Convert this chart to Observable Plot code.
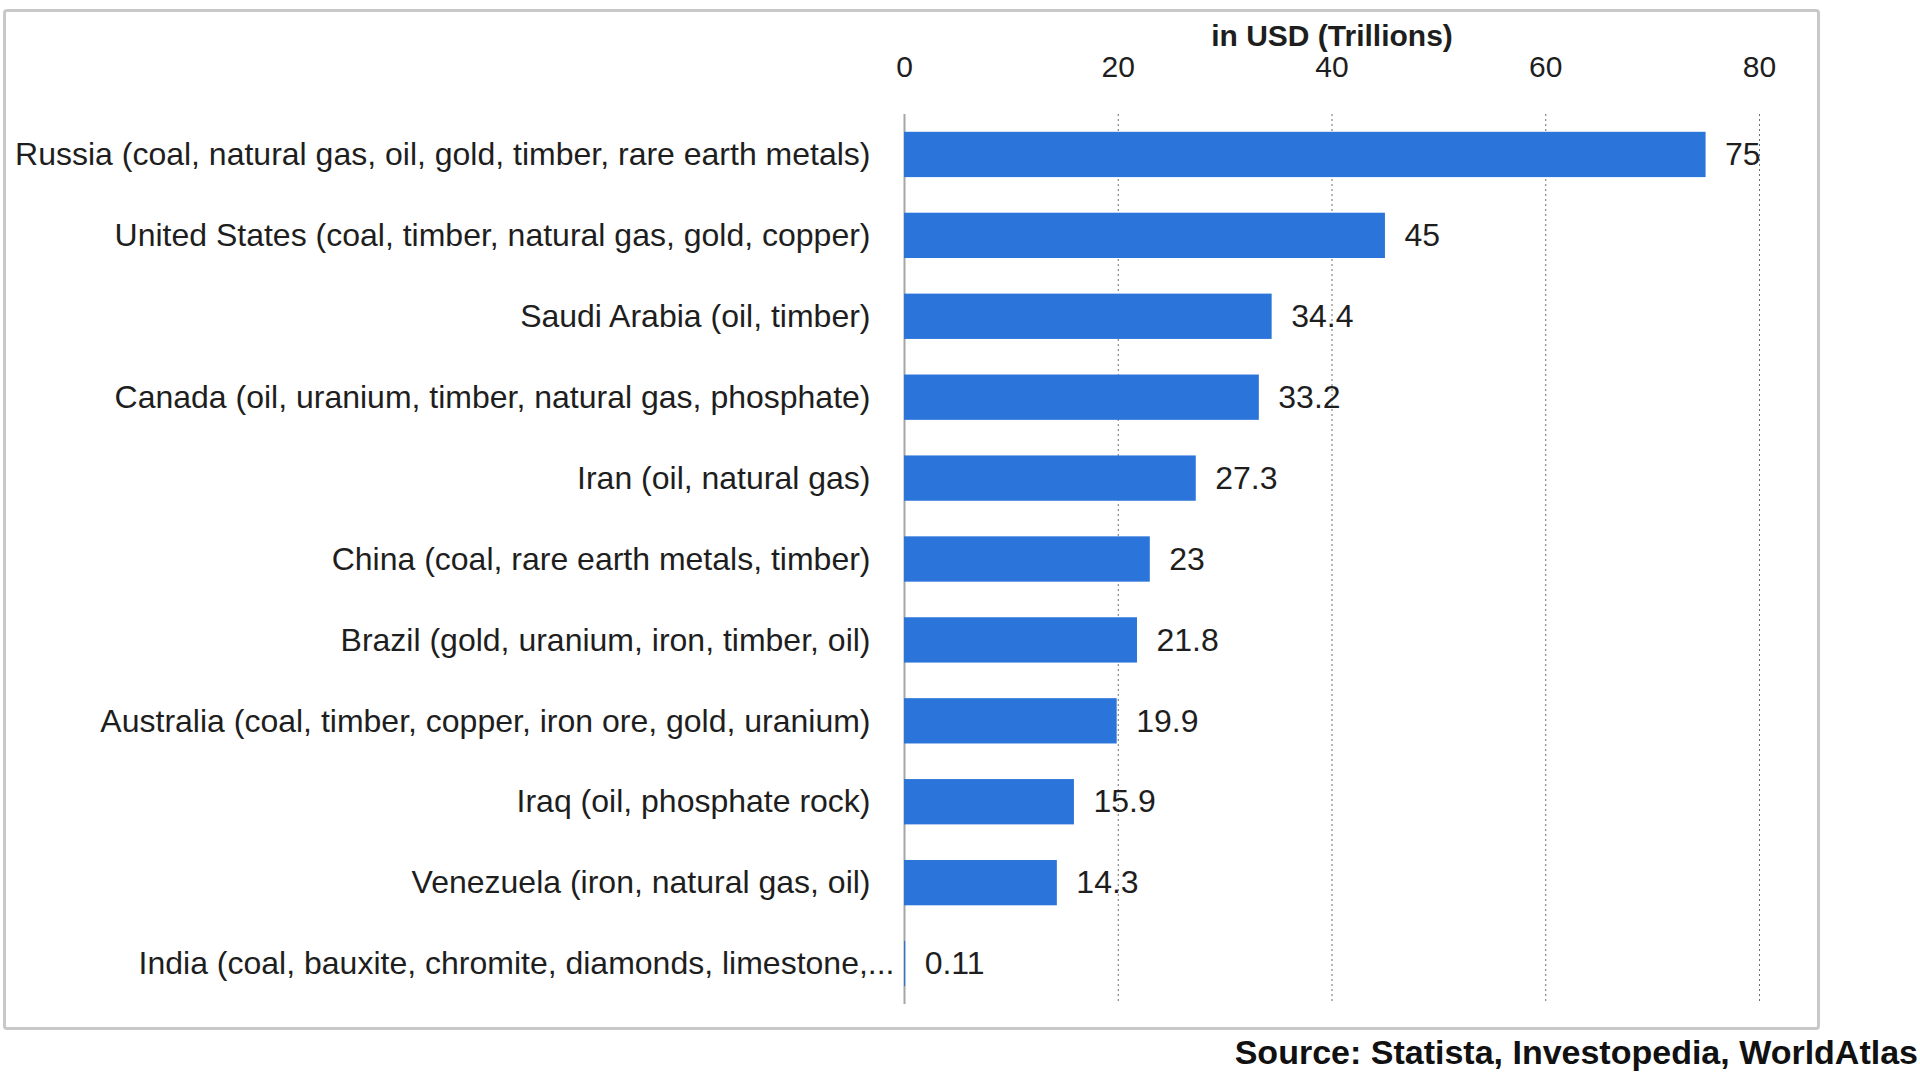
<!DOCTYPE html>
<html>
<head>
<meta charset="utf-8">
<script src="https://cdn.jsdelivr.net/npm/d3@7"></script>
<script src="https://cdn.jsdelivr.net/npm/@observablehq/plot@0.6"></script>
<style>
  html, body { margin: 0; padding: 0; background: #ffffff; }
  body { width: 1920px; height: 1080px; position: relative; overflow: hidden; font-family: "Liberation Sans", Arial, sans-serif; }
  #frame { position: absolute; left: 3px; top: 9px; width: 1817px; height: 1021px; box-sizing: border-box;
           border: 3px solid #c8c8c8; border-radius: 4px; z-index: 0; }
  #chart { position: relative; z-index: 1; height: 1030px; }
  #chart svg { display: block; }
  #chart g[aria-label="x-axis label"] text { font-weight: bold; font-size: 30px; }
  #caption { position: relative; z-index: 1; text-align: right; padding-right: 2px; font-weight: bold;
             font-size: 34px; line-height: 44px; color: #111; }
</style>
</head>
<body>
<div id="frame"></div>
<div id="chart"></div>
<div id="caption">Source: Statista, Investopedia, WorldAtlas</div>
<script>
const countries = [
  "Russia (coal, natural gas, oil, gold, timber, rare earth metals)",
  "United States (coal, timber, natural gas, gold, copper)",
  "Saudi Arabia (oil, timber)",
  "Canada (oil, uranium, timber, natural gas, phosphate)",
  "Iran (oil, natural gas)",
  "China (coal, rare earth metals, timber)",
  "Brazil (gold, uranium, iron, timber, oil)",
  "Australia (coal, timber, copper, iron ore, gold, uranium)",
  "Iraq (oil, phosphate rock)",
  "Venezuela (iron, natural gas, oil)",
  "India (coal, bauxite, chromite, diamonds, limestone,..."
];
const values = [75, 45, 34.4, 33.2, 27.3, 23, 21.8, 19.9, 15.9, 14.3, 0.11];
const xTicks = [0, 20, 40, 60, 80];
const axisTitle = "in USD (Trillions)";

const data = countries.map((c, i) => ({country: c, value: values[i]}));
const truncated = countries.filter(c => c.endsWith("..."));
const fullLabels = countries.filter(c => !c.endsWith("..."));

const chart = Plot.plot({
  width: 1920,
  height: 1030,
  marginLeft: 904,
  marginRight: 161,
  marginTop: 114,
  marginBottom: 26,
  style: {fontFamily: "'Liberation Sans', Arial, sans-serif", fontSize: "32px", color: "#1e1e1e", background: "transparent"},
  x: {domain: [0, 80]},
  y: {domain: countries, paddingInner: 0.44, paddingOuter: 0.22, round: false},
  marks: [
    Plot.gridX(xTicks.filter(v => v > 0), {stroke: "#6e6e6e", strokeOpacity: 1, strokeDasharray: "2,3", strokeWidth: 1}),
    Plot.ruleX([0], {stroke: "#a6a6a6", strokeWidth: 2}),
    Plot.barX(data, {x: "value", y: "country", fill: "#2b74d9"}),
    Plot.text(data, {x: "value", y: "country", text: d => String(d.value), textAnchor: "start", dx: 19, fontSize: 32, fill: "#1e1e1e"}),
    Plot.axisX({anchor: "top", ticks: xTicks, tickSize: 0, tickPadding: 38, fontSize: 30,
                label: axisTitle, labelAnchor: "center", labelOffset: 90, labelArrow: "none"}),
    Plot.axisY(fullLabels, {tickSize: 0, tickPadding: 34, fontSize: 32, label: null}),
    Plot.axisY(truncated, {tickSize: 0, tickPadding: 10, fontSize: 32, label: null})
  ]
});
document.getElementById("chart").appendChild(chart);
</script>
</body>
</html>
